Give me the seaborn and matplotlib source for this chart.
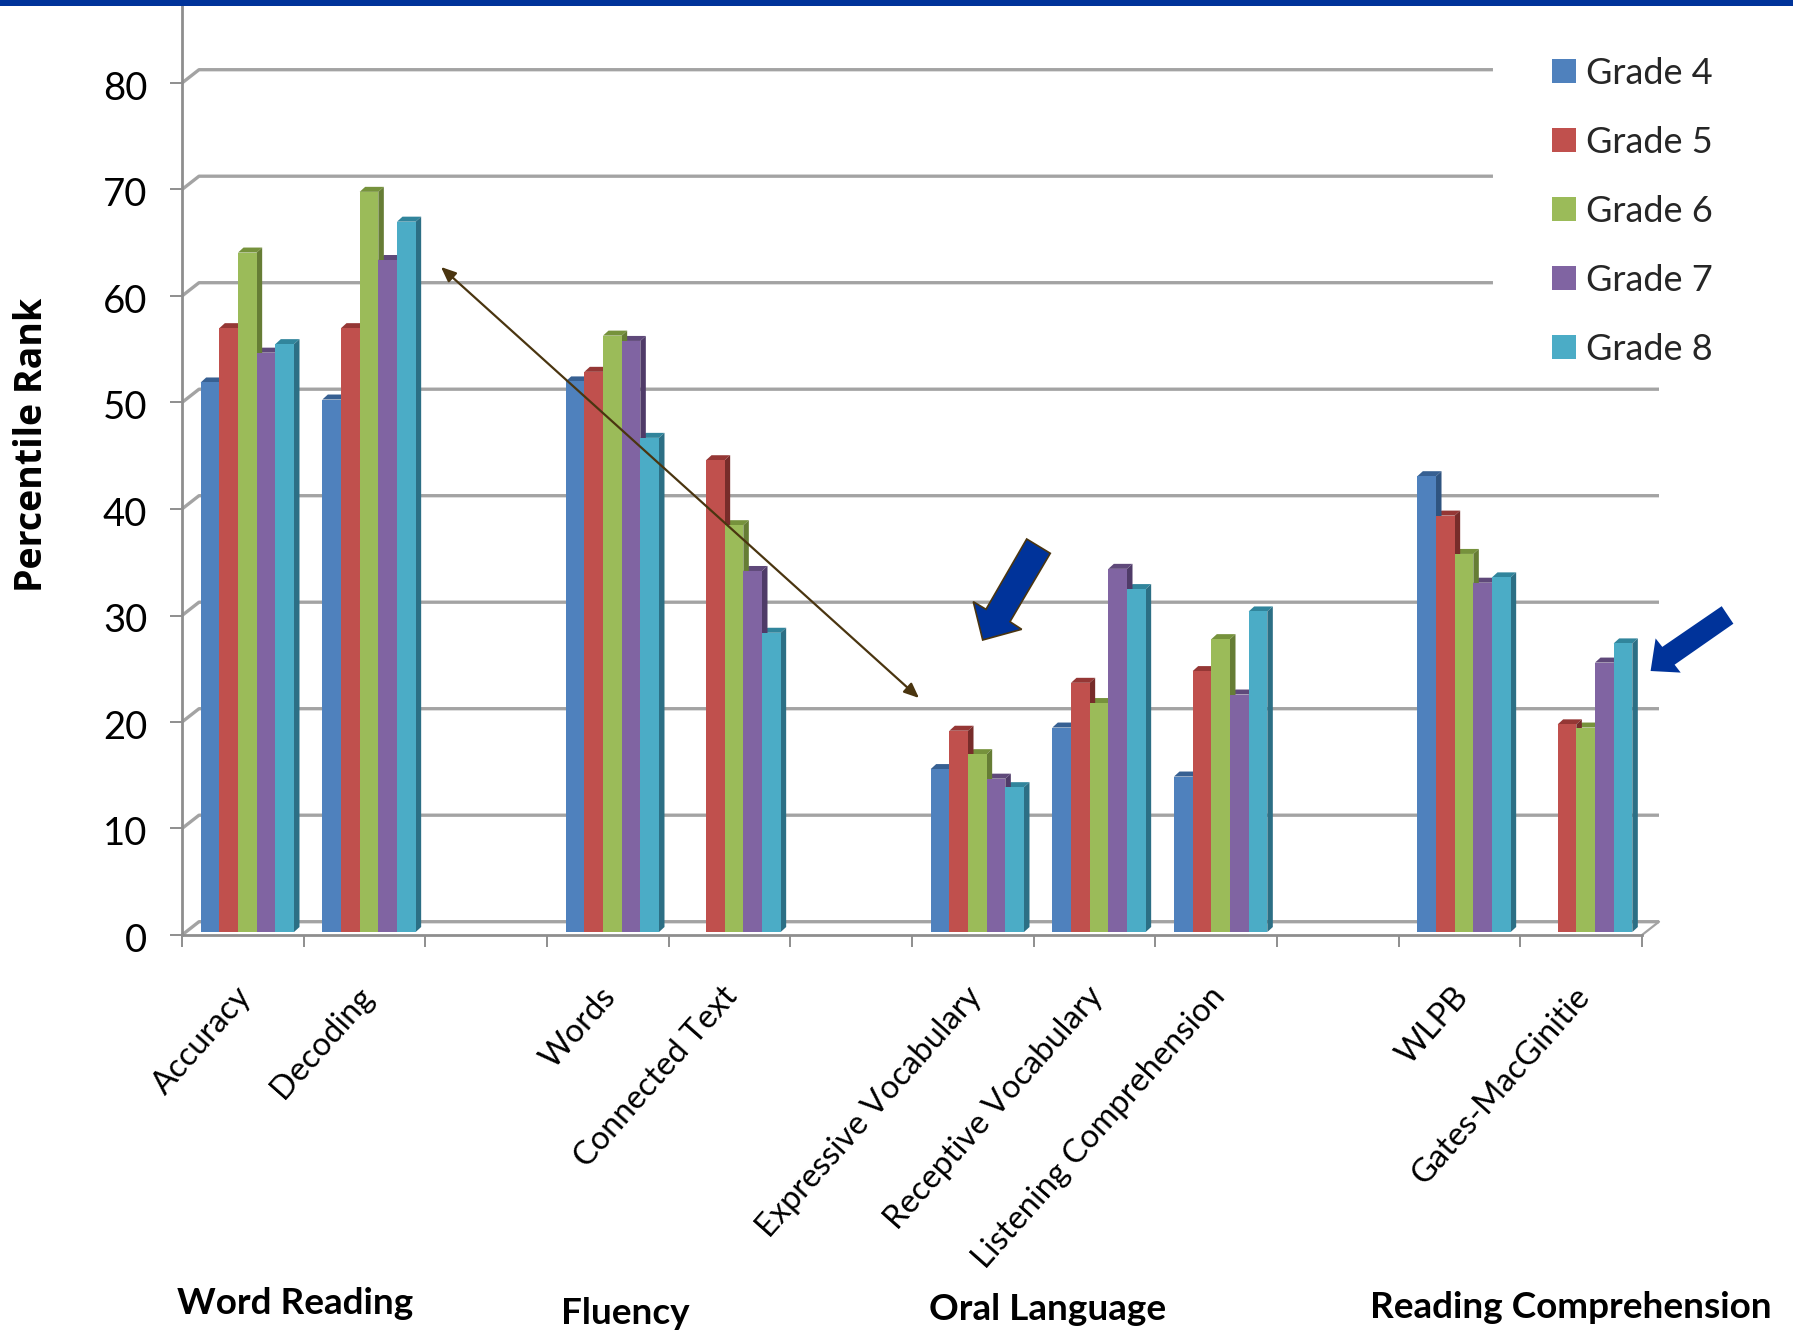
import numpy as np
import pandas as pd
import matplotlib
matplotlib.use("Agg")
import matplotlib.pyplot as plt
from matplotlib.patches import Polygon, Rectangle
from matplotlib.transforms import ScaledTranslation
import seaborn as sns

# Measures, with empty slots separating the four skill groups
categories = ["Accuracy", "Decoding", " ", "Words", "Connected Text", "  ",
              "Expressive Vocabulary", "Receptive Vocabulary",
              "Listening Comprehension", "   ", "WLPB", "Gates-MacGinitie"]
grades = ["Grade 4", "Grade 5", "Grade 6", "Grade 7", "Grade 8"]

grade_4 = [51.6, 50.0, np.nan, 51.7, np.nan, np.nan, 15.3, 19.2, 14.6, np.nan, 42.8, np.nan]
grade_5 = [56.7, 56.7, np.nan, 52.6, 44.3, np.nan, 18.9, 23.4, 24.5, np.nan, 39.1, 19.5]
grade_6 = [63.8, 69.5, np.nan, 56.0, 38.2, np.nan, 16.7, 21.5, 27.5, np.nan, 35.5, 19.2]
grade_7 = [54.4, 63.1, np.nan, 55.5, 33.9, np.nan, 14.4, 34.1, 22.3, np.nan, 32.8, 25.3]
grade_8 = [55.2, 66.7, np.nan, 46.4, 28.1, np.nan, 13.6, 32.2, 30.1, np.nan, 33.3, 27.1]

front_colors = ["#4F81BD", "#C0504D", "#9BBB59", "#8064A2", "#4BACC6"]
side_colors = ["#2F5480", "#772C2A", "#667D35", "#4F3B68", "#2C6F85"]
top_colors = ["#376092", "#953735", "#76923C", "#5F497A", "#31859C"]

group_labels = ["Word Reading", "Fluency", "Oral Language", "Reading Comprehension"]
group_x = [295, 625, 1048, 1571]
group_y = [1304, 1313, 1309, 1308]

W, H = 1793, 1332
GRID = "#a3a3a3"
AXIS = "#8e8e8e"


def fig_xy(px, py):
    """Pixel position measured from the top-left corner, as figure fractions."""
    return px / W, 1 - py / H


sns.set_theme(style="white")
plt.rcParams["font.family"] = ["Lato", "DejaVu Sans"]

values = pd.DataFrame({
    "Measure": categories * 5,
    "Grade": np.repeat(grades, len(categories)),
    "Percentile": grade_4 + grade_5 + grade_6 + grade_7 + grade_8,
})

fig = plt.figure(figsize=(W / 100, H / 100), dpi=100, facecolor="white")
ax = fig.add_axes([182 / W, (H - 935) / H, 1460 / W, 930 / H])

sns.barplot(data=values, x="Measure", y="Percentile", hue="Grade",
            order=categories, hue_order=grades, palette=front_colors,
            saturation=1, errorbar=None, width=0.767, gap=0, linewidth=0, ax=ax)

# Scales: one slot is 121.67 px wide, ten percentile points are 106.5 px tall
x_left, y_bottom = -0.537, -0.28
ax.set_xlim(x_left, x_left + 12)
ax.set_ylim(y_bottom, y_bottom + 930 / 10.65)

# Depth of the bars and of the chart box, in data units
bar_dx, bar_dy = 5.5 / 121.67, 5 / 10.65
wall_dx, wall_dy = 17 / 121.67, 13.3 / 10.65

# Pseudo-3D top and side faces built from the bars seaborn placed
color_index = {matplotlib.colors.to_hex(c): i for i, c in enumerate(front_colors)}
for bar in ax.patches:
    h = bar.get_height()
    if not np.isfinite(h) or h <= 0:
        continue
    i = color_index[matplotlib.colors.to_hex(bar.get_facecolor())]
    x0, x1 = bar.get_x(), bar.get_x() + bar.get_width()
    ax.add_patch(Polygon([(x0, h), (x1, h), (x1 + bar_dx, h + bar_dy), (x0 + bar_dx, h + bar_dy)],
                         closed=True, facecolor=top_colors[i], edgecolor="none", zorder=3))
    ax.add_patch(Polygon([(x1, 0), (x1 + bar_dx, bar_dy), (x1 + bar_dx, h + bar_dy), (x1, h)],
                         closed=True, facecolor=side_colors[i], edgecolor="none", zorder=3.5))
    bar.set_zorder(4)

# Horizontal wall lines, each with its diagonal down to the front axis
levels = np.arange(0, 90, 10)
x_right = x_left + 12
for level in levels:
    y = level + y_bottom
    end = (x_left + (1493 - 182) / 121.67) if level >= 60 else x_right + wall_dx
    ax.plot([x_left, x_left + wall_dx, end], [y, y + wall_dy, y + wall_dy],
            color=GRID, lw=2.4, clip_on=False, zorder=1, solid_capstyle="butt")
ax.plot([x_right, x_right + wall_dx], [y_bottom, y_bottom + wall_dy],
        color=GRID, lw=1.6, clip_on=False, zorder=1)

# Axes
sns.despine(ax=ax, top=True, right=True)
for side in ("left", "bottom"):
    ax.spines[side].set_color(AXIS)
    ax.spines[side].set_linewidth(2.0)
    ax.spines[side].set_zorder(5)

ax.set_yticks(levels + y_bottom, labels=[str(v) for v in levels])
ax.tick_params(axis="y", length=8.6, width=1.4, color=AXIS, pad=16.5, labelsize=27.5,
               labelcolor="black", left=True)
ytext_shift = ScaledTranslation(0, -1.5 / 72, fig.dpi_scale_trans)
for label in ax.get_yticklabels():
    label.set_transform(label.get_transform() + ytext_shift)

ax.set_xticks(np.arange(12) + 0.0)
ax.set_xticklabels(categories)
ax.set_xticks(x_left + np.arange(13), minor=True)
ax.tick_params(axis="x", which="minor", length=8.6, width=1.4, color=AXIS, bottom=True)
ax.tick_params(axis="x", which="major", length=0, pad=33.5, labelsize=23.5, labelcolor="black")
xtext_shift = ScaledTranslation(-9 / 72, 0, fig.dpi_scale_trans)
for label in ax.get_xticklabels():
    label.set_rotation(48.5)
    label.set_ha("right")
    label.set_va("top")
    label.set_rotation_mode("anchor")
    label.set_transform(label.get_transform() + xtext_shift)

ax.set_xlabel("")
ax.set_ylabel("")
fig.text(*fig_xy(32, 445), "Percentile Rank", rotation=90, ha="center", va="center",
         fontsize=27, fontweight="bold", family=["Open Sans", "DejaVu Sans"], color="black")

# Legend
sns.move_legend(ax, loc="upper left", bbox_to_anchor=fig_xy(1552, 57),
                bbox_transform=fig.transFigure, frameon=False, title=None,
                fontsize=26, handlelength=0.66, handleheight=0.66,
                labelspacing=0.995, handletextpad=0.28, borderpad=0, borderaxespad=0)

# Group headings along the bottom
for text, gx, gy in zip(group_labels, group_x, group_y):
    fig.text(*fig_xy(gx, gy), text, ha="center", va="center", fontsize=26.6,
             fontweight="bold", color="black")

# Header band
fig.add_artist(Rectangle((0, 1 - 5.5 / H), 1, 5.5 / H, transform=fig.transFigure,
                         facecolor="#00339A", edgecolor="none"))

# Double-headed trend arrow
ax.annotate("", xy=fig_xy(441, 267), xytext=fig_xy(919, 698),
            xycoords="figure fraction", textcoords="figure fraction",
            arrowprops=dict(arrowstyle="<|-|>,head_length=0.75,head_width=0.32", color="#4A3510",
                            lw=1.6, shrinkA=0, shrinkB=0), zorder=6)

# Block arrows calling out the two weakest measures
oral_arrow = [(1026.7, 539), (1050.3, 553.3), (1010, 621.7), (1021.7, 629.3),
              (982.7, 640), (973.3, 601.7), (986, 609.3)]
comp_arrow = [(1721.7, 606.2), (1733.4, 623.7), (1674.6, 664.7), (1680.7, 672.6),
              (1650.6, 671), (1655.6, 638.4), (1662.3, 646.9)]
fig.add_artist(Polygon([fig_xy(*p) for p in oral_arrow], closed=True, transform=fig.transFigure,
                       facecolor="#00339A", edgecolor="#4A3510", lw=1.2, zorder=6))
fig.add_artist(Polygon([fig_xy(*p) for p in comp_arrow], closed=True, transform=fig.transFigure,
                       facecolor="#00339A", edgecolor="none", zorder=6))

fig.savefig("out.png", dpi=100)
